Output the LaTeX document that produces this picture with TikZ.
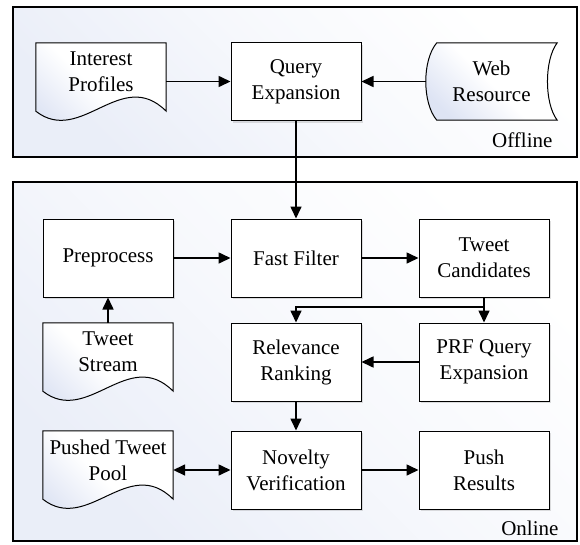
\documentclass[tikz,border=0pt]{standalone}
\usepackage{fontspec}
\setmainfont{Liberation Serif}
\usetikzlibrary{arrows.meta,calc,shadows,backgrounds}
\definecolor{paneblue}{RGB}{234,238,248}
\definecolor{docblue}{RGB}{222,228,244}
% wavy document outline round a node
\newcommand{\docwave}[1]{%
  \draw[docline] (#1.north west) -- (#1.north east) -- ($(#1.south east)+(0,10)$)
    .. controls ($(#1.south east)+(-45,-35)$) and ($(#1.south west)+(45,45)$) .. ($(#1.south west)+(0,10)$) -- cycle;}

\begin{document}
\begin{tikzpicture}[x=1pt,y=-1pt,
  txt/.style={font=\fontsize{21}{26}\selectfont},
  box/.style={txt,draw,line width=1pt,fill=white,minimum width=130pt,minimum height=78pt,align=center,
    drop shadow={shadow xshift=2pt,shadow yshift=-2pt,opacity=.25}},
  doc/.style={txt,minimum width=130pt,minimum height=58pt,inner sep=2pt,align=center},
  store/.style={txt,minimum width=131pt,minimum height=77pt,align=center},
  docline/.style={draw,line width=1pt,top color=docblue,bottom color=white,middle color=white,shading angle=135},
  frame/.style={draw,line width=2pt,top color=paneblue,bottom color=white,middle color=white!60!paneblue,shading angle=135},
  tag/.style={txt,anchor=east},
  arr/.style={line width=1.6pt,-{Triangle[length=12pt,width=11pt]}},
  dbl/.style={line width=1.6pt,{Triangle[length=12pt,width=11pt]}-{Triangle[length=12pt,width=11pt]}}]
\useasboundingbox (0,0) rectangle (580,544);

% offline part
\node[box] (qe) at (296,81.5) {Query\\Expansion};
\node[doc] (ip) at (101,72) {Interest\\Profiles};
\node[store] (wr) at (491.5,81.5) {Web\\Resource};
\node[tag] (off) at (556,140) {Offline};

% online part
\node[box] (pre) at (108,258) {Preprocess};
\node[box] (ff) at (296,258) {Fast Filter};
\node[box] (tc) at (484,258) {Tweet\\Candidates};
\node[doc] (ts) at (108,352) {Tweet\\Stream};
\node[box] (rr) at (296,362) {Relevance\\Ranking};
\node[box] (prf) at (484,362) {PRF Query\\Expansion};
\node[doc] (ptp) at (108,460) {Pushed Tweet\\Pool};
\node[box] (nv) at (296,470) {Novelty\\Verification};
\node[box] (pr) at (484,470) {Push\\Results};
\node[tag] (on) at (562,528) {Online};
\coordinate (split) at (484,307);

\begin{scope}[on background layer]
\draw[frame] (13,7) rectangle (577,157);
\draw[frame] (13,182) rectangle (577,541);
\docwave{ip}
\docwave{ts}
\docwave{ptp}
\draw[docline] ($(wr.north west)+(11,0)$) -- (wr.north east)
  .. controls ($(wr.north east)+(-13,17)$) and ($(wr.south east)+(-13,-17)$) .. (wr.south east)
  -- ($(wr.south west)+(11,0)$)
  .. controls ($(wr.south west)+(-3.7,-17)$) and ($(wr.north west)+(-3.7,17)$) .. ($(wr.north west)+(11,0)$) -- cycle;
\end{scope}

\draw[arr] (ip.east |- qe) -- (qe);
\draw[arr] (wr) -- (qe);
\draw[arr] (qe) -- (ff);
\draw[arr] (pre) -- (ff);
\draw[arr] (ts) -- (pre);
\draw[arr] (ff) -- (tc);
\draw[arr] (tc.south) -- (split) -| (rr.north);
\draw[arr] (split) -- (prf.north);
\draw[arr] (prf) -- (rr);
\draw[arr] (rr) -- (nv);
\draw[dbl] (ptp.east |- nv) -- (nv);
\draw[arr] (nv) -- (pr);
\end{tikzpicture}
\end{document}
